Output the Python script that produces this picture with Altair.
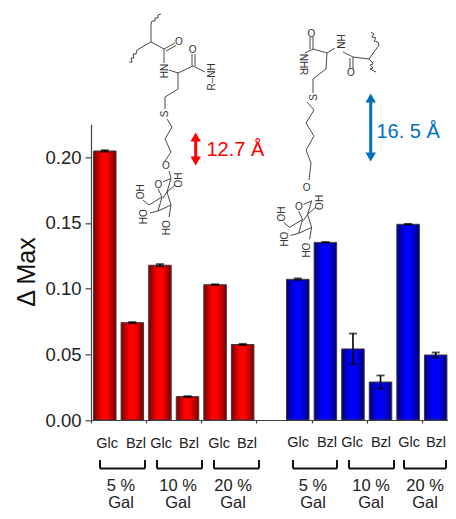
import altair as alt
import pandas as pd

FONT = "Liberation Sans"

# ---- chart values ----
red_pos = [1, 2, 3, 4, 5, 6]
red_vals = [0.2048, 0.0741, 0.1178, 0.0178, 0.1030, 0.0575]
red_errs = [0.0006, 0.0005, 0.0009, 0.0004, 0.0004, 0.0005]
blue_pos = [8, 9, 10, 11, 12, 13]
blue_vals = [0.1071, 0.1352, 0.0541, 0.0289, 0.1490, 0.0495]
blue_errs = [0.0007, 0.0004, 0.0117, 0.0050, 0.0003, 0.0019]
y_ticks = [0.0, 0.025, 0.05, 0.075, 0.10, 0.125, 0.15, 0.175, 0.20, 0.225]
x_ticks = [0.5 + 0.5 * i for i in range(26)]

W = 357
H = 295.7
PAD_BOTTOM = 91
PAD_RIGHT = 0

# ---- page-pixel to data helpers for the annotations ----
Y0, DY = 420.0, 1313.5
XMIN, XMAX = 0.5, 1 + (456 - 105) / 28.2
YMAX = (420 - 124.3) / 1313.5
def dx(p): return XMIN + (p - 91) * (XMAX - XMIN) / W
def dy(p): return (Y0 - p) / DY

# ---- structure drawing, as polylines in page pixels ----
left_lines = [
    [(161, 14), (158, 15), (158, 18), (155, 18), (155, 21), (152, 21), (151, 24), (151, 42)],
    [(129, 62), (132, 62), (131, 58), (134, 58), (133, 54), (136, 54), (137, 50), (151, 42), (164, 49)],
    [(164, 49), (175, 43)], [(166, 51), (176, 45.5)],
    [(164, 49), (164, 63)],
    [(169, 70), (178, 73), (193, 66), (205, 72)],
    [(192, 66), (192, 54)], [(195, 66), (195, 54)],
    [(178, 73), (178, 89), (165, 97), (165, 109)],
    [(167, 119), (172, 127), (165, 139), (171, 152), (165, 161)],
    [(169, 171), (171, 178)],
]
ring = [
    [(171, 178.5), (163, 182)],
    [(158, 189), (162, 197), (158, 211), (171, 205), (167, 192), (171, 178.5)],
    [(162, 197), (149, 205), (143, 200)],
    [(158, 211), (150, 213)],
    [(171, 205), (169, 217)],
    [(167, 192), (175, 185)],
    [(163, 198), (167, 192)],
]
RX, RY = 140.6, 22.4
right_lines = [
    [(371, 32), (374, 34), (372, 37), (376, 38), (374, 41), (378, 42), (379, 45), (369, 59)],
    [(369, 59), (372, 62), (373, 64), (370, 65), (373, 68), (370, 69), (376, 72)],
    [(369, 59), (353, 57)],
    [(353, 57), (353, 69)], [(350, 58), (350, 69)],
    [(353, 57), (343, 52)],
    [(335, 48), (327, 53), (313, 49)],
    [(313, 49), (313, 37)], [(310, 49), (310, 37)],
    [(313, 49), (305, 53)],
    [(327, 53), (326, 69), (313, 79), (313, 93)],
    [(307, 102), (314, 110), (306, 123), (314, 136), (306, 150), (311, 163), (309, 180)],
]
for line in ring:
    left_lines.append(line)
    right_lines.append([(a + RX, b + RY) for a, b in line])

seg_rows = []
for line in left_lines + right_lines:
    for (a, b), (c, d) in zip(line[:-1], line[1:]):
        seg_rows.append({"x": dx(a), "x2": dx(c), "y": dy(b), "y2": dy(d)})
seg_df = pd.DataFrame(seg_rows)

# ---- brackets under the axis ----
bracket_spans = [(100, 145), (157, 202), (214, 259), (293, 337), (349, 394), (404, 446)]
br_rows = []
for a, b in bracket_spans:
    br_rows += [
        {"x": dx(a), "x2": dx(a), "y": dy(460), "y2": dy(468.5)},
        {"x": dx(a), "x2": dx(b), "y": dy(468.5), "y2": dy(468.5)},
        {"x": dx(b), "x2": dx(b), "y": dy(460), "y2": dy(468.5)},
    ]
br_df = pd.DataFrame(br_rows)

# ---- text ----
txt = []
def t(s, x, y, size=8, color="#333333", angle=0):
    txt.append({"s": s, "x": dx(x), "y": dy(y), "size": size, "color": color, "angle": angle})

for s, x, y in [("Glc", 107, 444), ("Bzl", 136, 444), ("Glc", 161, 444), ("Bzl", 189, 444),
                ("Glc", 219, 444), ("Bzl", 247, 444), ("Glc", 298, 443), ("Bzl", 327, 443),
                ("Glc", 352, 443), ("Bzl", 381, 443), ("Glc", 409, 443), ("Bzl", 436, 443)]:
    t(s, x, y, 14.5, "#222222")
for s, x in [("5 %", 121), ("10 %", 178), ("20 %", 233), ("5 %", 313), ("10 %", 371), ("20 %", 425)]:
    t(s, x, 485.5, 16.5, "#222222")
    t("Gal", x, 503, 16.5, "#222222")
t("Δ Max", 27, 272, 25, "#111111", 270)
# left structure labels
t("O", 179, 41.5, 10); t("O", 192.7, 49.5, 10)
t("HN", 165, 71, 10, angle=270); t("R–NH", 211.5, 77, 10, angle=270)
t("S", 165, 114, 10, angle=270)
t("O", 166, 165.5, 10)
# right structure labels
t("O", 351, 73, 10); t("O", 311.5, 33.5, 10)
t("HN", 339.5, 41.5, 10, angle=90); t("NHR", 302.5, 64.5, 10, angle=90)
t("S", 313.5, 97.5, 10, angle=270)
t("O", 306.7, 188.3, 10)
for ox, oy in [(0, 0), (RX, RY)]:
    t("OH", 141 + ox, 191.7 + oy, 10, angle=270)
    t("HO", 144.3 + ox, 216.7 + oy, 10, angle=270)
    t("HO", 166.7 + ox, 227.7 + oy, 10, angle=270)
    t("OH", 179.3 + ox, 180 + oy, 10, angle=270)
t("O", 158.3, 185, 10); t("O", 158.3 + RX, 185 + RY, 10)
txt_df = pd.DataFrame(txt)

lab_df = pd.DataFrame([
    {"s": "12.7 Å", "x": dx(206.5), "y": dy(156), "c": "#ff0000"},
    {"s": "16. 5 Å", "x": dx(376.5), "y": dy(138), "c": "#0070c0"},
])

arrows = pd.DataFrame([
    {"x": dx(195.7), "y": dy(136), "y2": dy(162), "c": "#ff0000", "top": dy(137), "bot": dy(161)},
    {"x": dx(370.7), "y": dy(97), "y2": dy(158), "c": "#0070c0", "top": dy(98), "bot": dy(157)},
])

# ---- scales ----
xs = alt.Scale(domain=[XMIN, XMAX], nice=False, zero=False, padding=0)
ys = alt.Scale(domain=[0, YMAX], nice=False, zero=False, padding=0)
X = lambda f: alt.X(f, type="quantitative", scale=xs, title=None)
Y = lambda f: alt.Y(f, type="quantitative", scale=ys, title=None)


def grad(dark, bright):
    return alt.Gradient(
        gradient="linear", x1=0, x2=1, y1=0, y2=0,
        stops=[alt.GradientStop(color=dark, offset=0),
               alt.GradientStop(color=bright, offset=0.38),
               alt.GradientStop(color=bright, offset=0.6),
               alt.GradientStop(color=dark, offset=1)],
    )


def bars(pos, vals, errs, dark, bright):
    df = pd.DataFrame({"p": pos, "v": vals, "lo": [a - b for a, b in zip(vals, errs)],
                       "hi": [a + b for a, b in zip(vals, errs)]})
    b = alt.Chart(df).mark_bar(size=22.5, color=grad(dark, bright), stroke="#3a3a3a", strokeWidth=1).encode(
        x=X("p"), y=Y("v"))
    r = alt.Chart(df).mark_rule(color="black", strokeWidth=1.6).encode(x=X("p"), y=Y("lo"), y2="hi")
    c1 = alt.Chart(df).mark_tick(orient="horizontal", color="black", size=8, thickness=1.8).encode(x=X("p"), y=Y("hi"))
    c2 = alt.Chart(df).mark_tick(orient="horizontal", color="black", size=8, thickness=1.8).encode(x=X("p"), y=Y("lo"))
    return [b, r, c1, c2]


axes_base = alt.Chart(pd.DataFrame({"x": [1.0], "y": [0.0]})).mark_point(opacity=0).encode(
    x=alt.X("x:Q", scale=xs, title=None, axis=alt.Axis(
        values=x_ticks, labels=False, grid=False, domainColor="#444444", tickColor="#444444",
        domainWidth=1.2, tickWidth=1.2, title=None,
        tickSize={"condition": {"test": "datum.value % 1 === 0", "value": 7}, "value": 3})),
    y=alt.Y("y:Q", scale=ys, title=None, axis=alt.Axis(
        values=y_ticks, grid=False, domainColor="#444444", tickColor="#444444",
        domainWidth=1.2, tickWidth=1.2, title=None, labelFont=FONT, labelFontSize=18.5, labelColor="#222222",
        labelPadding=4,
        labelExpr="round(datum.value*1000) % 50 === 0 ? format(datum.value, '.2f') : ''",
        tickSize={"condition": {"test": "round(datum.value*1000) % 50 === 0", "value": 6}, "value": 3})),
)

segs = alt.Chart(seg_df).mark_rule(color="#333333", strokeWidth=0.9).encode(x=X("x"), x2="x2", y=Y("y"), y2="y2")
brs = alt.Chart(br_df).mark_rule(color="#111111", strokeWidth=2).encode(x=X("x"), x2="x2", y=Y("y"), y2="y2")
texts = alt.Chart(txt_df).mark_text(font=FONT, baseline="middle", align="center").encode(
    x=X("x"), y=Y("y"), text="s:N",
    size=alt.Size("size:Q", scale=None),
    color=alt.Color("color:N", scale=None),
    angle=alt.Angle("angle:Q", scale=None),
)
labs = alt.Chart(lab_df).mark_text(font=FONT, fontSize=20, align="left", baseline="alphabetic").encode(
    x=X("x"), y=Y("y"), text="s:N", color=alt.Color("c:N", scale=None))
arr_line = alt.Chart(arrows).mark_rule(strokeWidth=3).encode(
    x=X("x"), y=Y("y"), y2="y2", color=alt.Color("c:N", scale=None))
arr_top = alt.Chart(arrows).mark_point(shape="triangle-up", filled=True, size=110, opacity=1).encode(
    x=X("x"), y=Y("top"), color=alt.Color("c:N", scale=None))
arr_bot = alt.Chart(arrows).mark_point(shape="triangle-down", filled=True, size=110, opacity=1).encode(
    x=X("x"), y=Y("bot"), color=alt.Color("c:N", scale=None))

layers = [axes_base] + bars(red_pos, red_vals, red_errs, "#7a0000", "#ff0000") \
    + bars(blue_pos, blue_vals, blue_errs, "#00007a", "#0000ff") \
    + [segs, brs, texts, labs, arr_line, arr_top, arr_bot]

chart = alt.layer(*layers).resolve_scale(color="independent").properties(
    width=W, height=H,
    autosize="none",
    padding={"left": 83, "top": 116.3, "right": PAD_RIGHT, "bottom": PAD_BOTTOM},
).configure_view(stroke=None)

chart.save("out.html", embed_options={"renderer": "svg", "actions": False})
